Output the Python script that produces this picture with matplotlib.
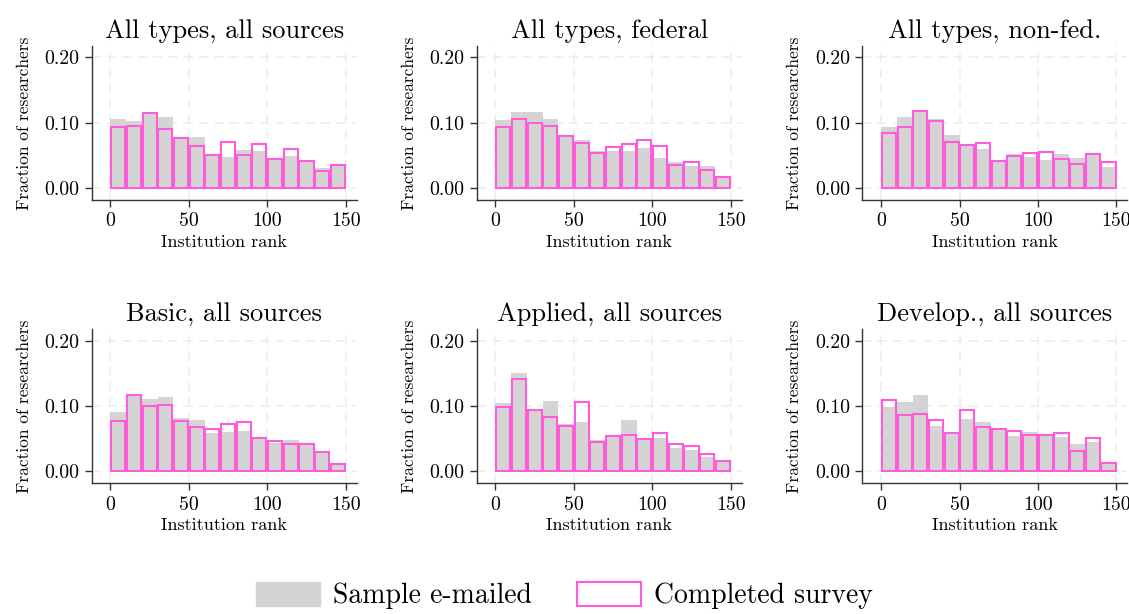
import numpy as np
import matplotlib.pyplot as plt
from matplotlib.patches import Patch
from matplotlib.ticker import FormatStrFormatter

plt.rcParams['font.family'] = 'cmr10'
plt.rcParams['axes.unicode_minus'] = False
plt.rcParams['mathtext.fontset'] = 'cm'

# bins of 10 ranks, 0-150
bin_left = np.arange(0, 150, 10)

titles = ['All types, all sources', 'All types, federal', 'All types, non-fed.',
          'Basic, all sources', 'Applied, all sources', 'Develop., all sources']

# fraction of researchers per rank bin: sample e-mailed (gray) / completed survey (pink)
emailed_all = [0.106, 0.103, 0.113, 0.108, 0.078, 0.078, 0.050, 0.047, 0.058, 0.057, 0.045, 0.049, 0.043, 0.030, 0.035]
completed_all = [0.094, 0.095, 0.114, 0.091, 0.077, 0.064, 0.051, 0.070, 0.051, 0.068, 0.044, 0.059, 0.042, 0.026, 0.035]

emailed_fed = [0.104, 0.117, 0.116, 0.105, 0.079, 0.074, 0.056, 0.057, 0.057, 0.061, 0.046, 0.039, 0.033, 0.034, 0.017]
completed_fed = [0.094, 0.106, 0.099, 0.095, 0.079, 0.069, 0.054, 0.062, 0.068, 0.073, 0.064, 0.035, 0.039, 0.028, 0.017]

emailed_nonfed = [0.094, 0.109, 0.118, 0.106, 0.081, 0.066, 0.059, 0.043, 0.052, 0.047, 0.043, 0.052, 0.046, 0.052, 0.032]
completed_nonfed = [0.084, 0.094, 0.118, 0.103, 0.070, 0.066, 0.069, 0.042, 0.049, 0.053, 0.055, 0.045, 0.037, 0.052, 0.040]

emailed_basic = [0.090, 0.117, 0.111, 0.113, 0.082, 0.078, 0.058, 0.060, 0.062, 0.051, 0.043, 0.048, 0.044, 0.029, 0.011]
completed_basic = [0.077, 0.117, 0.100, 0.102, 0.077, 0.068, 0.065, 0.073, 0.076, 0.051, 0.047, 0.042, 0.042, 0.029, 0.011]

emailed_applied = [0.104, 0.151, 0.093, 0.107, 0.073, 0.075, 0.048, 0.054, 0.079, 0.050, 0.051, 0.035, 0.032, 0.022, 0.015]
completed_applied = [0.099, 0.141, 0.093, 0.083, 0.070, 0.106, 0.045, 0.054, 0.055, 0.050, 0.058, 0.041, 0.038, 0.027, 0.015]

emailed_devel = [0.098, 0.106, 0.116, 0.070, 0.059, 0.080, 0.076, 0.063, 0.054, 0.060, 0.055, 0.052, 0.041, 0.045, 0.013]
completed_devel = [0.109, 0.086, 0.088, 0.078, 0.059, 0.093, 0.067, 0.064, 0.061, 0.056, 0.056, 0.058, 0.031, 0.051, 0.013]

emailed = [emailed_all, emailed_fed, emailed_nonfed, emailed_basic, emailed_applied, emailed_devel]
completed = [completed_all, completed_fed, completed_nonfed, completed_basic, completed_applied, completed_devel]

gray = '#d4d4d4'
pink = '#ff5cd9'

fig = plt.figure(figsize=(11.29, 6.14), dpi=100)
lefts = [0.0812, 0.4222, 0.7638]
bottoms = [0.6743, 0.2129]
w, h = 0.2347, 0.2508

for i in range(6):
    ax = fig.add_axes([lefts[i % 3], bottoms[i // 3], w, h])
    ax.bar(bin_left, emailed[i], width=10, align='edge', color=gray, linewidth=0, zorder=2)
    ax.bar(bin_left + 5, completed[i], width=9, align='center', fill=False,
           edgecolor=pink, linewidth=1.5, zorder=3)
    ax.set_xlim(-12, 157)
    ax.set_ylim(-0.0184, 0.2173)
    ax.set_xticks([0, 50, 100, 150])
    ax.set_yticks([0.0, 0.1, 0.2])
    ax.yaxis.set_major_formatter(FormatStrFormatter('%.2f'))
    ax.grid(True, color='#ececec', linestyle=(0, (6, 4)), linewidth=1.1, zorder=0)
    ax.set_axisbelow(True)
    for s in ['top', 'right']:
        ax.spines[s].set_visible(False)
    for s in ['left', 'bottom']:
        ax.spines[s].set_color('#333333')
        ax.spines[s].set_linewidth(1.0)
    ax.tick_params(direction='out', length=5, width=1.0, color='#333333', labelsize=14.3, pad=4)
    ax.set_xlabel('Institution rank', fontsize=13, labelpad=3)
    ax.set_ylabel('Fraction of researchers', fontsize=12.5, labelpad=9)
    ax.set_title(titles[i], fontsize=19, pad=6)

handles = [Patch(facecolor=gray, edgecolor=gray), Patch(facecolor='white', edgecolor=pink, linewidth=1.5)]
fig.legend(handles, ['Sample e-mailed', 'Completed survey'], loc='center', bbox_to_anchor=(0.5, 0.03),
           ncol=2, frameon=False, fontsize=20, handlelength=2.3, handleheight=0.95,
           handletextpad=0.5, columnspacing=1.6)

fig.savefig('out.png', dpi=100)
